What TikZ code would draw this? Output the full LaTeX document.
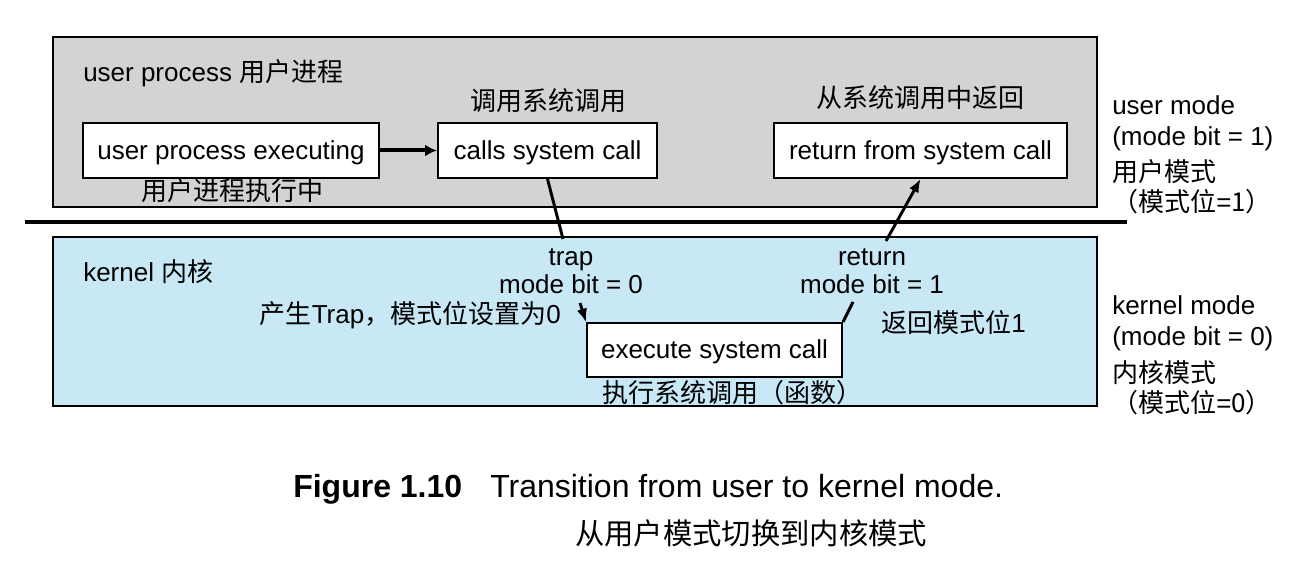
\documentclass[tikz,border=0pt]{standalone}
\usepackage{fontspec}
\setmainfont{Liberation Sans}
\newfontfamily\cjk{Noto Sans CJK SC}
\usetikzlibrary{arrows.meta}
\definecolor{usergray}{RGB}{211,211,213}
\definecolor{kernblue}{RGB}{200,232,246}
\tikzset{
  lbl/.style={inner sep=0pt, anchor=base west, font=\fontsize{19.5}{23}\selectfont},
  lblc/.style={inner sep=0pt, anchor=base, font=\fontsize{19.5}{23}\selectfont},
  lble/.style={inner sep=0pt, anchor=base east, font=\fontsize{19.5}{23}\selectfont},
  procbox/.style={draw, line width=1.5pt, fill=white, inner sep=0pt, minimum height=41.25pt,
    text height=16pt, text depth=3pt, font=\fontsize{19.5}{23}\selectfont},
  region/.style={draw, line width=1.3pt},
  conn/.style={line width=2.2pt},
  arr/.style={line width=2.2pt, -{Latex[length=10pt,width=8pt]}},
  marr/.style={line width=3pt, -{Latex[length=9pt,width=9pt]}},
}
\begin{document}
\begin{tikzpicture}[x=0.75pt,y=-0.75pt]
\useasboundingbox (0,0) rectangle (1310,580);
% regions
\draw[region, fill=usergray] (53,37) rectangle (1097,207);
\draw[region, fill=kernblue] (53,237) rectangle (1097,406);
\draw[line width=3pt] (25,222) coordinate (sepL) -- (1127,222) coordinate (sepR);

% region titles
\node[lbl] (utitle) at (83,82) {user process {\cjk 用户进程}};
\node[lbl] (ktitle) at (83,282) {kernel {\cjk 内核}};

% boxes
\node[procbox, minimum width=222pt] (upe) at (231,150.5) {user process executing};
\node[procbox, minimum width=164.25pt] (csc) at (547.5,150.5) {calls system call};
\node[procbox, minimum width=219.75pt] (rsc) at (920.5,150.5) {return from system call};
\node[procbox, minimum width=191.25pt, minimum height=40.5pt] (esc) at (714.5,350) {execute system call};

% chinese labels
\node[lblc] (cscl) at (548,111) {\cjk 调用系统调用};
\node[lblc] (rscl) at (920,108) {\cjk 从系统调用中返回};
\node[lblc] (upel) at (232,201) {\cjk 用户进程执行中};
\node[lbl] (escl) at (602,403) {\cjk 执行系统调用（函数）};

% trap labels
\node[lblc] (trap1) at (571,266) {trap};
\node[lblc] (trap2) at (571,294) {mode bit = 0};
\node[lble] (trapcn) at (561,324) {{\cjk 产生}Trap{\cjk ，模式位设置为}0};
\node[lblc] (ret1) at (872,266) {return};
\node[lblc] (ret2) at (872,294) {mode bit = 1};
\node[lbl] (retcn) at (881,333) {{\cjk 返回模式位}1};

% connectors
\draw[marr] (upe.east) -- (csc.west);
\coordinate (trapA) at (563,239);
\coordinate (trapB) at (580,303);
\draw[conn] (csc.south) -- (trapA);
\draw[arr] (trapB) -- (esc.north west);
\coordinate (retA) at (853,302);
\coordinate (retB) at (886,241);
\draw[conn] (esc.north east) -- (retA);
\draw[arr] (retB) -- (rsc.south);

% right side mode labels
\node[lbl] (um1) at (1112,115) {user mode};
\node[lbl] (um2) at (1112,146) {(mode bit = 1)};
\node[lbl] (um3) at (1112,182) {\cjk 用户模式};
\node[lbl] (um4) at (1112,212) {{\cjk （模式位}={\cjk 1）}};
\node[lbl] (km1) at (1112,315) {kernel mode};
\node[lbl] (km2) at (1112,346) {(mode bit = 0)};
\node[lbl] (km3) at (1112,383) {\cjk 内核模式};
\node[lbl] (km4) at (1112,413) {{\cjk （模式位}={\cjk 0）}};

% caption
\node[inner sep=0pt, anchor=base west, font=\fontsize{24}{28}\selectfont\bfseries] (capn) at (293,498) {Figure 1.10};
\node[inner sep=0pt, anchor=base west, font=\fontsize{24}{28}\selectfont] (capt) at (490,498) {Transition from user to kernel mode.};
\node[inner sep=0pt, anchor=base west, font=\fontsize{22}{26}\selectfont] (capc) at (575,544) {\cjk 从用户模式切换到内核模式};
\end{tikzpicture}
\end{document}
